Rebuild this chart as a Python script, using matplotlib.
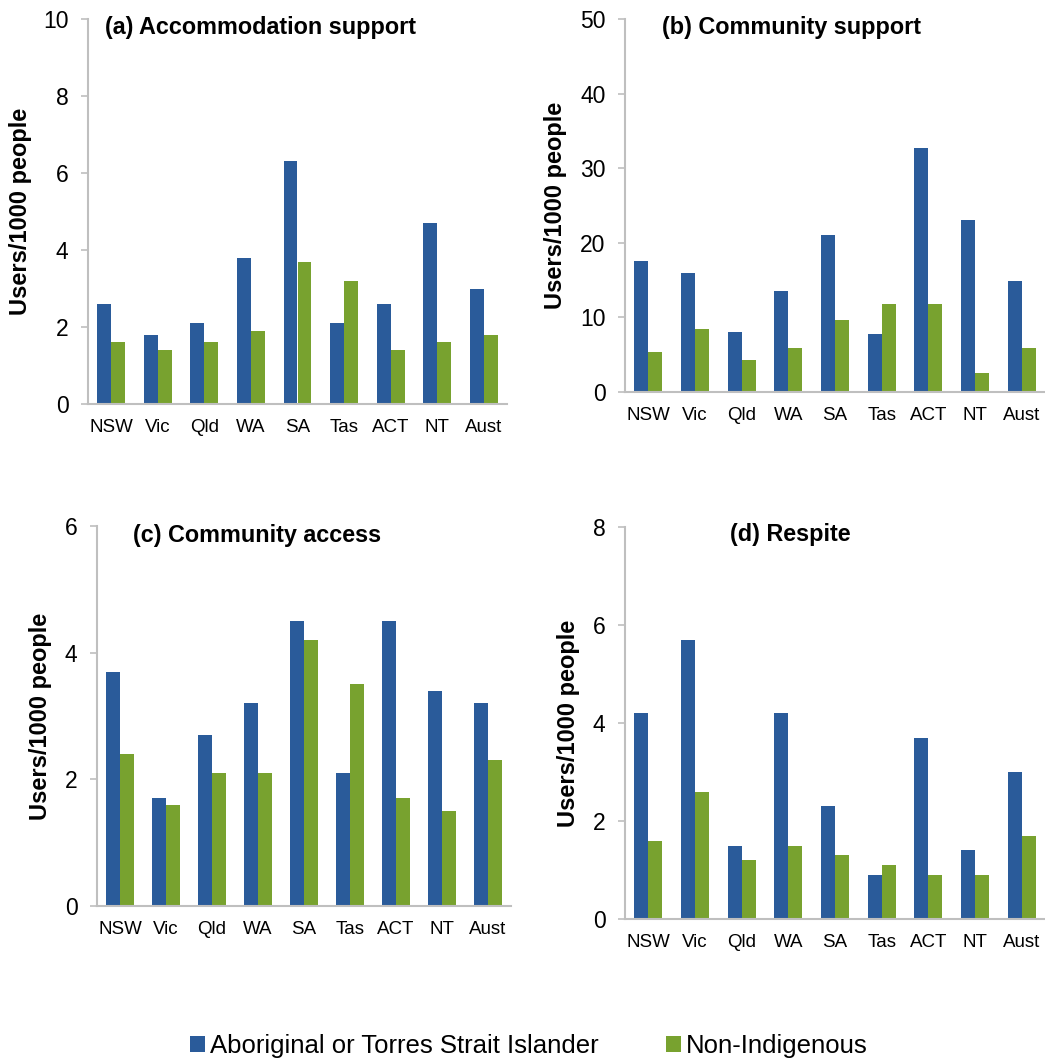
import matplotlib
matplotlib.use("Agg")
import matplotlib.pyplot as plt
import numpy as np
from matplotlib.patches import Patch

plt.rcParams['font.family'] = ['Liberation Sans', 'DejaVu Sans']

categories = ["NSW", "Vic", "Qld", "WA", "SA", "Tas", "ACT", "NT", "Aust"]
series_names = ["Aboriginal or Torres Strait Islander", "Non-Indigenous"]

accom_indig = [2.6, 1.8, 2.1, 3.8, 6.3, 2.1, 2.6, 4.7, 3.0]
accom_non = [1.6, 1.4, 1.6, 1.9, 3.7, 3.2, 1.4, 1.6, 1.8]

commsup_indig = [17.5, 16.0, 8.0, 13.6, 21.0, 7.8, 32.7, 23.1, 14.9]
commsup_non = [5.4, 8.5, 4.3, 5.9, 9.6, 11.8, 11.8, 2.5, 5.9]

access_indig = [3.7, 1.7, 2.7, 3.2, 4.5, 2.1, 4.5, 3.4, 3.2]
access_non = [2.4, 1.6, 2.1, 2.1, 4.2, 3.5, 1.7, 1.5, 2.3]

respite_indig = [4.2, 5.7, 1.5, 4.2, 2.3, 0.9, 3.7, 1.4, 3.0]
respite_non = [1.6, 2.6, 1.2, 1.5, 1.3, 1.1, 0.9, 0.9, 1.7]

titles = ["(a) Accommodation support", "(b) Community support",
          "(c) Community access", "(d) Respite"]
ymaxes = [10, 50, 6, 8]
ysteps = [2, 10, 2, 2]

BLUE = "#2A5B9A"
GREEN = "#78A22F"
SPINE = "#BFBFBF"

W, H = 1045, 1061
fig = plt.figure(figsize=(W / 100, H / 100), dpi=100)

# pixel boxes: left, right, top, bottom
boxes = [(88, 507, 19, 404), (625, 1045, 19, 392),
         (97, 511, 526, 906), (625, 1045, 527, 919)]
title_pos = [(0.04, 0.977), (0.088, 0.976), (0.087, 0.976), (0.25, 0.98)]
ylab_x = [-0.134, -0.138, -0.109, -0.107]

data = [(accom_indig, accom_non), (commsup_indig, commsup_non),
        (access_indig, access_non), (respite_indig, respite_non)]

x = np.arange(len(categories))
bw = 0.3
for i, (l, r, t, b) in enumerate(boxes):
    ax = fig.add_axes([l / W, 1 - b / H, (r - l) / W, (b - t) / H])
    a, n = data[i]
    ax.bar(x - bw / 2, a, bw, color=BLUE, edgecolor="none")
    ax.bar(x + bw / 2, n, bw, color=GREEN, edgecolor="none")
    ax.set_xlim(-0.5, len(categories) - 0.5)
    ax.set_ylim(0, ymaxes[i])
    ax.set_yticks(np.arange(0, ymaxes[i] + 0.001, ysteps[i]))
    ax.set_xticks(x)
    ax.set_xticklabels(categories, fontsize=13.5)
    ax.tick_params(axis='y', labelsize=16.5, length=5, width=1.2, color=SPINE, pad=9)
    ax.tick_params(axis='x', length=0, pad=11)
    for s in ["top", "right"]:
        ax.spines[s].set_visible(False)
    for s in ["left", "bottom"]:
        ax.spines[s].set_color(SPINE)
        ax.spines[s].set_linewidth(1.5)
    ax.set_ylabel("Users/1000 people", fontsize=17, fontweight="bold")
    ax.yaxis.set_label_coords(ylab_x[i], 0.5)
    ax.text(title_pos[i][0], title_pos[i][1], titles[i], transform=ax.transAxes,
            fontsize=16.8, fontweight="bold", va="center", ha="left")

handles = [Patch(facecolor=BLUE, edgecolor="none"), Patch(facecolor=GREEN, edgecolor="none")]
fig.legend(handles, series_names, loc="center", bbox_to_anchor=(0.506, 0.014),
           ncol=2, frameon=False, fontsize=18.5, handlelength=0.6, handleheight=0.6,
           handletextpad=0.2, columnspacing=2.6)

fig.savefig("out.png", dpi=100)
